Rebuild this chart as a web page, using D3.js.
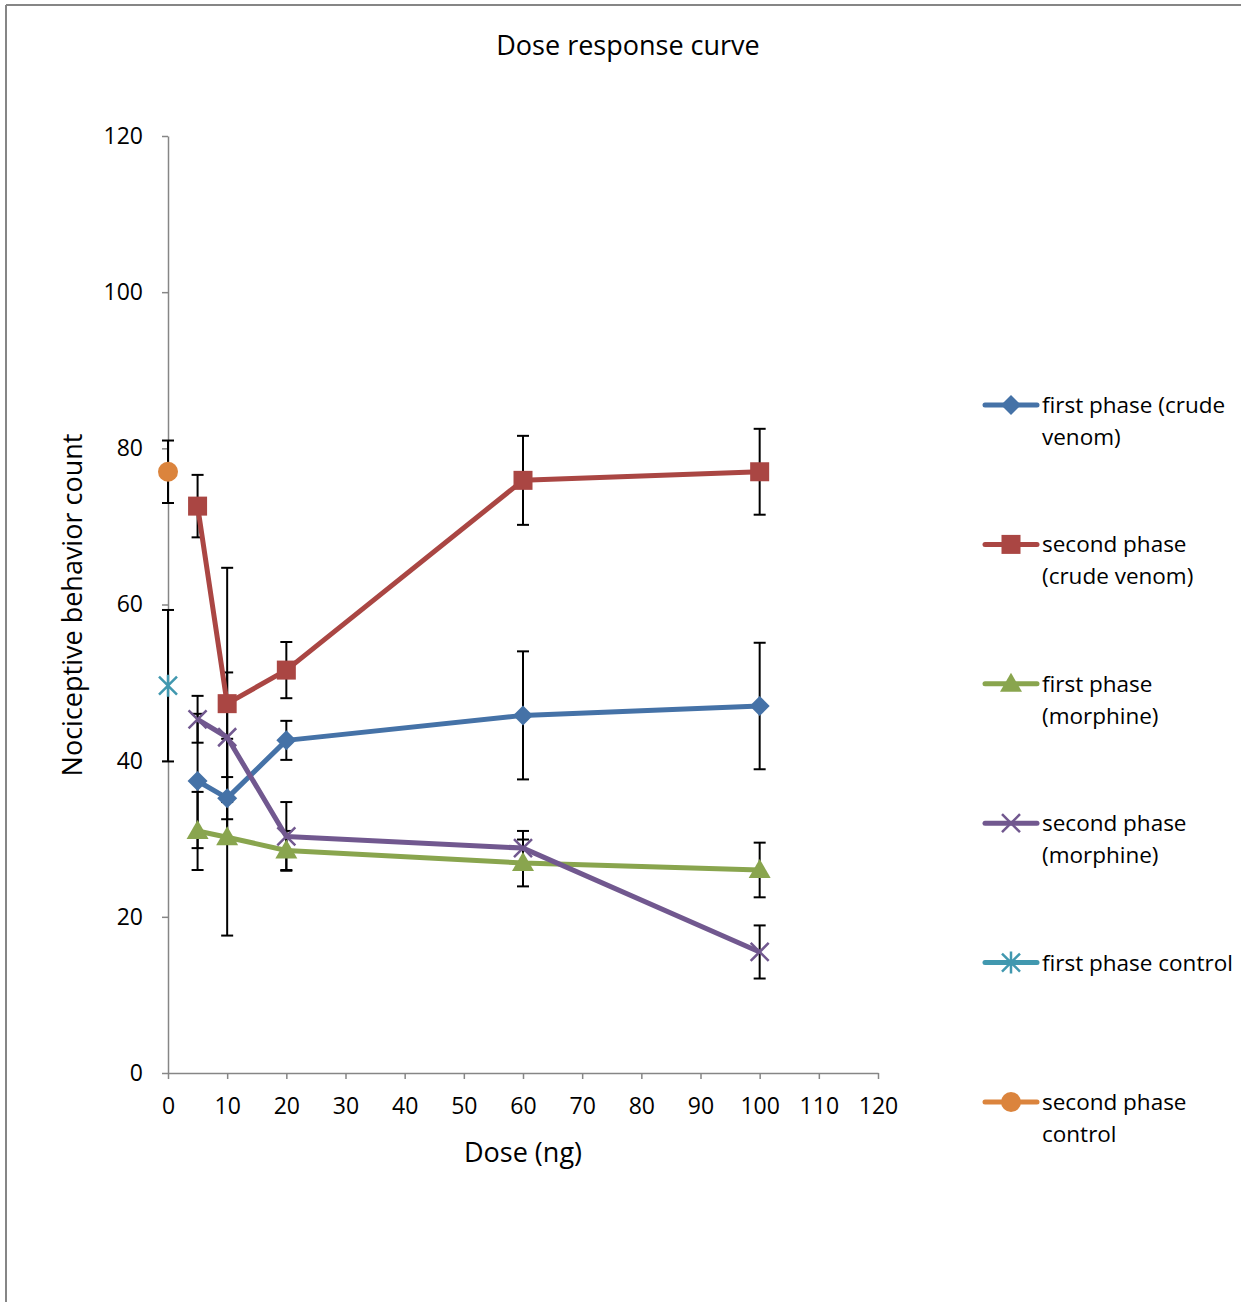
<!DOCTYPE html>
<html>
<head>
<meta charset="utf-8">
<script src="https://cdn.jsdelivr.net/npm/d3@7"></script>
<style>
  body { margin: 0; background: #fff; }
  text { font-family: "Open Sans", "Noto Sans", sans-serif; fill: #000; }
</style>
</head>
<body>
<div id="chart"></div>
<script>
// doses in ng
var doses = [5, 10, 20, 60, 100];
var controlDose = [0];

var firstCrude = [37.4, 35.2, 42.6, 45.8, 47.0];
var firstCrudeErr = [8.6, 2.7, 2.5, 8.2, 8.1];
var secondCrude = [72.6, 47.3, 51.6, 75.9, 77.0];
var secondCrudeErr = [4.0, 17.4, 3.6, 5.7, 5.5];
var firstMorphine = [31.0, 30.2, 28.5, 26.9, 26.0];
var firstMorphineErr = [5.0, 12.6, 2.5, 3.0, 3.5];
var secondMorphine = [45.3, 43.0, 30.3, 28.8, 15.5];
var secondMorphineErr = [3.0, 8.3, 4.4, 2.2, 3.4];
var firstControl = [49.6];
var firstControlErr = [9.7];
var secondControl = [77.0];
var secondControlErr = [4.0];

var xTicks = [0, 10, 20, 30, 40, 50, 60, 70, 80, 90, 100, 110, 120];
var yTicks = [0, 20, 40, 60, 80, 100, 120];

var series = [
  {name: ["first phase (crude", "venom)"], x: doses, y: firstCrude, err: firstCrudeErr, color: "#4572a7", marker: "diamond"},
  {name: ["second phase", "(crude venom)"], x: doses, y: secondCrude, err: secondCrudeErr, color: "#aa4643", marker: "square"},
  {name: ["first phase", "(morphine)"], x: doses, y: firstMorphine, err: firstMorphineErr, color: "#89a54e", marker: "triangle"},
  {name: ["second phase", "(morphine)"], x: doses, y: secondMorphine, err: secondMorphineErr, color: "#71588f", marker: "cross"},
  {name: ["first phase control"], x: controlDose, y: firstControl, err: firstControlErr, color: "#4198af", marker: "star"},
  {name: ["second phase", "control"], x: controlDose, y: secondControl, err: secondControlErr, color: "#db843d", marker: "circle"}
];

var W = 1241, H = 1302;
var svg = d3.select("#chart").append("svg")
    .attr("width", W)
    .attr("height", H);

// chart area border (only top and left visible in the crop)
svg.append("line").attr("x1", 6).attr("y1", 5).attr("x2", W).attr("y2", 5)
    .attr("stroke", "#868686").attr("stroke-width", 2);
svg.append("line").attr("x1", 6).attr("y1", 5).attr("x2", 6).attr("y2", H)
    .attr("stroke", "#868686").attr("stroke-width", 2);

var x = d3.scaleLinear().domain([0, 120]).range([168, 878]);
var y = d3.scaleLinear().domain([0, 120]).range([1073, 136]);

var gx = svg.append("g").attr("transform", "translate(0,1073)")
    .call(d3.axisBottom(x).tickValues(xTicks).tickSize(6).tickSizeOuter(0).tickPadding(19));
var gy = svg.append("g").attr("transform", "translate(168,0)")
    .call(d3.axisLeft(y).tickValues(yTicks).tickSize(6).tickSizeOuter(0).tickPadding(19));
[gx, gy].forEach(function(g) {
  g.select(".domain").attr("stroke", "#868686").attr("stroke-width", 1.5);
  g.selectAll(".tick line").attr("stroke", "#868686").attr("stroke-width", 1.5);
  g.selectAll(".tick text").attr("font-size", 23).attr("font-family", "Open Sans").attr("fill", "#000");
});

svg.append("text").attr("x", 628).attr("y", 55).attr("text-anchor", "middle")
    .attr("font-size", 27).text("Dose response curve");
svg.append("text").attr("x", 523).attr("y", 1162).attr("text-anchor", "middle")
    .attr("font-size", 27).text("Dose (ng)");
svg.append("text").attr("transform", "translate(82,605) rotate(-90)").attr("text-anchor", "middle")
    .attr("font-size", 27).text("Nociceptive behavior count");

function drawMarker(g, type, color) {
  if (type === "diamond") {
    g.append("path").attr("d", "M0,-10L10,0L0,10L-10,0Z").attr("fill", color);
  } else if (type === "square") {
    g.append("rect").attr("x", -9.5).attr("y", -9.5).attr("width", 19).attr("height", 19).attr("fill", color);
  } else if (type === "triangle") {
    g.append("path").attr("d", "M0,-11L11,8L-11,8Z").attr("fill", color);
  } else if (type === "circle") {
    g.append("circle").attr("r", 10).attr("fill", color);
  } else if (type === "cross") {
    g.append("path").attr("d", "M-9,-9L9,9M-9,9L9,-9").attr("stroke", color).attr("stroke-width", 2.5);
  } else if (type === "star") {
    g.append("path").attr("d", "M-9,-9L9,9M-9,9L9,-9M0,-11L0,11").attr("stroke", color).attr("stroke-width", 2.5);
  }
}

// error bars
var eb = svg.append("g");
series.forEach(function(s) {
  s.x.forEach(function(d, i) {
    var cx = x(d), top = y(s.y[i] + s.err[i]), bot = y(s.y[i] - s.err[i]);
    eb.append("line").attr("x1", cx).attr("x2", cx).attr("y1", top).attr("y2", bot)
        .attr("stroke", "#000").attr("stroke-width", 2);
    [top, bot].forEach(function(v) {
      eb.append("line").attr("x1", cx - 6).attr("x2", cx + 6).attr("y1", v).attr("y2", v)
          .attr("stroke", "#000").attr("stroke-width", 2);
    });
  });
});

var line = d3.line().x(function(d) { return x(d[0]); }).y(function(d) { return y(d[1]); });

series.forEach(function(s) {
  var pts = s.x.map(function(d, i) { return [d, s.y[i]]; });
  if (pts.length > 1) {
    svg.append("path").attr("d", line(pts)).attr("fill", "none")
        .attr("stroke", s.color).attr("stroke-width", 5).attr("stroke-linejoin", "round");
  }
  pts.forEach(function(p) {
    var g = svg.append("g").attr("transform", "translate(" + x(p[0]) + "," + y(p[1]) + ")");
    drawMarker(g, s.marker, s.color);
  });
});

// legend
var legend = svg.append("g");
series.forEach(function(s, i) {
  var ly = 405 + i * 139.4;
  legend.append("line").attr("x1", 985).attr("x2", 1037).attr("y1", ly).attr("y2", ly)
      .attr("stroke", s.color).attr("stroke-width", 5).attr("stroke-linecap", "round");
  var g = legend.append("g").attr("transform", "translate(1011," + ly + ")");
  drawMarker(g, s.marker, s.color);
  s.name.forEach(function(t, j) {
    legend.append("text").attr("x", 1042).attr("y", ly + 8 + j * 32)
        .attr("font-size", 22.5).text(t);
  });
});
</script>
</body>
</html>
